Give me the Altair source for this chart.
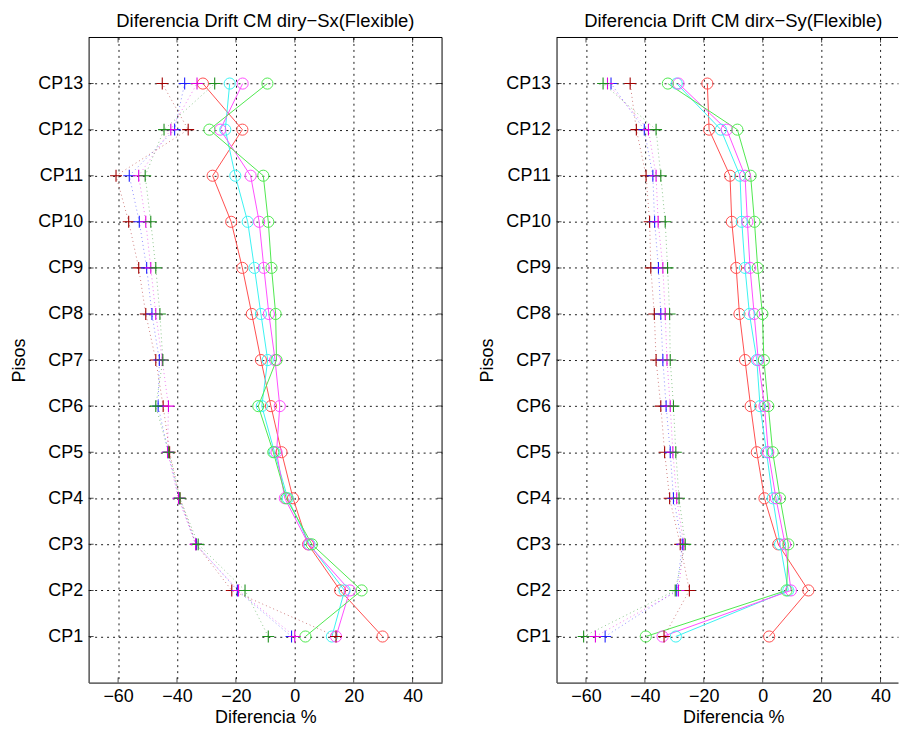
import altair as alt
import pandas as pd

FLOORS = list(range(1, 14))
X_TICKS = [-60, -40, -20, 0, 20, 40]
X_DOMAIN = [-70, 50]
X_DOMAIN_RIGHT = [-70, 45.94]   # right panel is cut off at the picture edge
Y_DOMAIN = [0, 14]

TITLE_1 = "Diferencia Drift CM diry\u2212Sx(Flexible)"
TITLE_2 = "Diferencia Drift CM dirx\u2212Sy(Flexible)"
X_TITLE = "Diferencia %"
Y_TITLE = "Pisos"

SERIES = ["o_r", "o_c", "o_m", "o_g", "p_r", "p_b", "p_m", "p_g"]
COLORS = ["#ff4f4f", "#3af2f2", "#ff4fff", "#4fe84f",
          "#a00000", "#2020ff", "#e000e0", "#1e8f1e"]

# Left panel (values CP1 .. CP13)
L_O_RED = [29.8, 15.4, 4.5, -0.6, -4.5, -8.1, -11.5, -14.6, -17.8, -21.6, -27.9, -17.8, -31.2]
L_O_CYAN = [12.6, 16.9, 5.0, -2.4, -6.9, -11.2, -9.2, -11.5, -13.7, -16.0, -20.2, -23.6, -22.1]
L_O_MAG = [14.0, 18.7, 4.7, -3.4, -6.2, -5.1, -6.7, -8.8, -10.5, -12.1, -15.0, -25.3, -17.7]
L_O_GREEN = [3.6, 22.7, 5.8, -2.9, -7.3, -12.4, -6.2, -6.5, -7.9, -9.0, -10.7, -29.0, -9.3]
L_P_RED = [14.0, -21.4, -33.5, -39.0, -42.5, -44.7, -47.2, -50.6, -53.0, -56.4, -60.7, -36.2, -45.0]
L_P_BLUE = [-1.1, -19.5, -33.5, -39.3, -43.0, -46.4, -46.0, -48.5, -50.3, -52.8, -56.2, -40.8, -37.4]
L_P_MAG = [0.0, -19.1, -33.7, -39.5, -43.2, -42.9, -45.0, -47.2, -48.9, -50.6, -53.0, -42.1, -33.2]
L_P_GREEN = [-9.0, -16.9, -32.8, -39.0, -42.8, -47.2, -44.8, -45.8, -47.2, -48.9, -50.8, -44.4, -27.2]

# Right panel (values CP1 .. CP13)
R_O_RED = [2.2, 15.5, 5.3, 0.6, -2.0, -4.1, -6.0, -7.9, -9.0, -10.5, -11.1, -18.2, -18.8]
R_O_CYAN = [-29.5, 8.7, 5.9, 3.4, 1.3, -0.9, -2.0, -4.5, -6.0, -7.1, -7.7, -14.2, -29.2]
R_O_MAG = [-34.0, 9.6, 7.6, 4.5, 1.9, 0.6, -1.5, -2.9, -4.3, -5.2, -6.0, -12.2, -28.6]
R_O_GREEN = [-39.7, 8.1, 8.7, 5.9, 3.4, 1.9, 0.4, -0.1, -1.7, -2.8, -4.1, -8.6, -32.2]
R_P_RED = [-33.5, -24.9, -28.0, -31.6, -33.3, -34.6, -36.2, -36.8, -38.0, -38.4, -39.6, -42.9, -45.0]
R_P_BLUE = [-53.5, -29.2, -27.3, -30.3, -31.4, -32.8, -33.9, -34.6, -35.4, -36.7, -37.3, -40.2, -51.5]
R_P_MAG = [-56.8, -28.6, -26.8, -29.2, -30.5, -31.4, -32.5, -33.1, -33.9, -35.5, -36.2, -38.8, -52.7]
R_P_GREEN = [-60.8, -29.7, -26.3, -28.4, -29.5, -30.3, -31.4, -31.6, -32.3, -33.1, -34.6, -36.2, -54.2]

PLUS_PATH = "M-1,0L1,0M0,-1L0,1"
FONT = "Liberation Sans"
FS = 18
TFS = 18.5


def build_df(series):
    rows = []
    for key, vals in series.items():
        for f, v in zip(FLOORS, vals):
            rows.append({"s": key, "kind": key[0], "floor": f, "v": v})
    return pd.DataFrame(rows)


def panel(series, title, xdom, width, right_frame, title_dx):
    df = build_df(series)
    xenc = alt.X("v:Q", scale=alt.Scale(domain=xdom, nice=False, zero=False),
                 axis=alt.Axis(values=X_TICKS, title=X_TITLE, grid=True, ticks=False,
                               domain=True, domainColor="black", domainWidth=1,
                               labelPadding=5, titlePadding=3, titleX=177.5))
    yenc = alt.Y("floor:Q", scale=alt.Scale(domain=Y_DOMAIN, nice=False, zero=False),
                 axis=alt.Axis(values=FLOORS, labelExpr="'CP' + datum.value", title=Y_TITLE,
                               grid=True, ticks=False, domain=True, domainColor="#555555",
                               domainWidth=1.5, labelPadding=6, titlePadding=9.5))
    color = alt.Color("s:N", scale=alt.Scale(domain=SERIES, range=COLORS), legend=None)

    base = alt.Chart(df).encode(x=xenc, y=yenc, color=color, detail="s:N", order="floor:Q")

    o_lines = base.transform_filter(alt.datum.kind == "o").mark_line(strokeWidth=1, clip=True)
    o_pts = base.transform_filter(alt.datum.kind == "o").mark_point(
        shape="circle", size=125, filled=False, strokeWidth=1, opacity=1, clip=True)
    p_lines = base.transform_filter(alt.datum.kind == "p").mark_line(
        strokeWidth=1, strokeDash=[1, 3], opacity=0.5, clip=True)
    p_pts = base.transform_filter(alt.datum.kind == "p").mark_point(
        shape=PLUS_PATH, size=144, filled=False, strokeWidth=1.1, opacity=1, clip=True)

    side_x = [X_DOMAIN[0], X_DOMAIN[1]] if right_frame else [X_DOMAIN[0]]
    side_ticks = pd.DataFrame([{"v": xv, "floor": f} for xv in side_x for f in FLOORS])
    end_ticks = pd.DataFrame([{"v": xv, "floor": yv} for yv in Y_DOMAIN for xv in X_TICKS])
    t1 = alt.Chart(side_ticks).mark_tick(orient="horizontal", size=10, thickness=1,
                                         color="black", clip=True).encode(x=xenc, y=yenc)
    t2 = alt.Chart(end_ticks).mark_tick(orient="vertical", size=10, thickness=1,
                                        color="black", clip=True).encode(x=xenc, y=yenc)

    top_df = pd.DataFrame([{"v": xdom[0], "v2": xdom[1], "floor": Y_DOMAIN[1]}])
    top_rule = alt.Chart(top_df).mark_rule(color="black", strokeWidth=1).encode(
        x=xenc, x2="v2:Q", y=yenc)
    layers = [o_lines, p_lines, o_pts, p_pts, t1, t2, top_rule]
    if right_frame:
        right_df = pd.DataFrame([{"v": xdom[1], "floor": Y_DOMAIN[0], "f2": Y_DOMAIN[1]}])
        layers.append(alt.Chart(right_df).mark_rule(color="black", strokeWidth=1).encode(
            x=xenc, y=yenc, y2="f2:Q"))

    return alt.layer(*layers).properties(
        width=width, height=648,
        view=alt.ViewConfig(stroke="transparent"),
        title=alt.TitleParams(title, fontSize=TFS, font=FONT, fontWeight="normal",
                              color="black", offset=7, dx=title_dx))


chart = alt.hconcat(
    panel({"o_r": L_O_RED, "o_c": L_O_CYAN, "o_m": L_O_MAG, "o_g": L_O_GREEN,
           "p_r": L_P_RED, "p_b": L_P_BLUE, "p_m": L_P_MAG, "p_g": L_P_GREEN},
          TITLE_1, X_DOMAIN, 355, True, 0),
    panel({"o_r": R_O_RED, "o_c": R_O_CYAN, "o_m": R_O_MAG, "o_g": R_O_GREEN,
           "p_r": R_P_RED, "p_b": R_P_BLUE, "p_m": R_P_MAG, "p_g": R_P_GREEN},
          TITLE_2, X_DOMAIN_RIGHT, 343, False, 6),
    spacing=34,
).properties(
    padding={"left": 1, "top": 1, "right": 0, "bottom": 0}
).configure_axis(
    labelFont=FONT, labelFontSize=FS, labelColor="black",
    titleFont=FONT, titleFontSize=FS, titleColor="black", titleFontWeight="normal",
    gridColor="black", gridDash=[2, 4], gridOpacity=0.9, gridWidth=1,
)

chart.save("out.html", embed_options={"renderer": "svg", "actions": False})
